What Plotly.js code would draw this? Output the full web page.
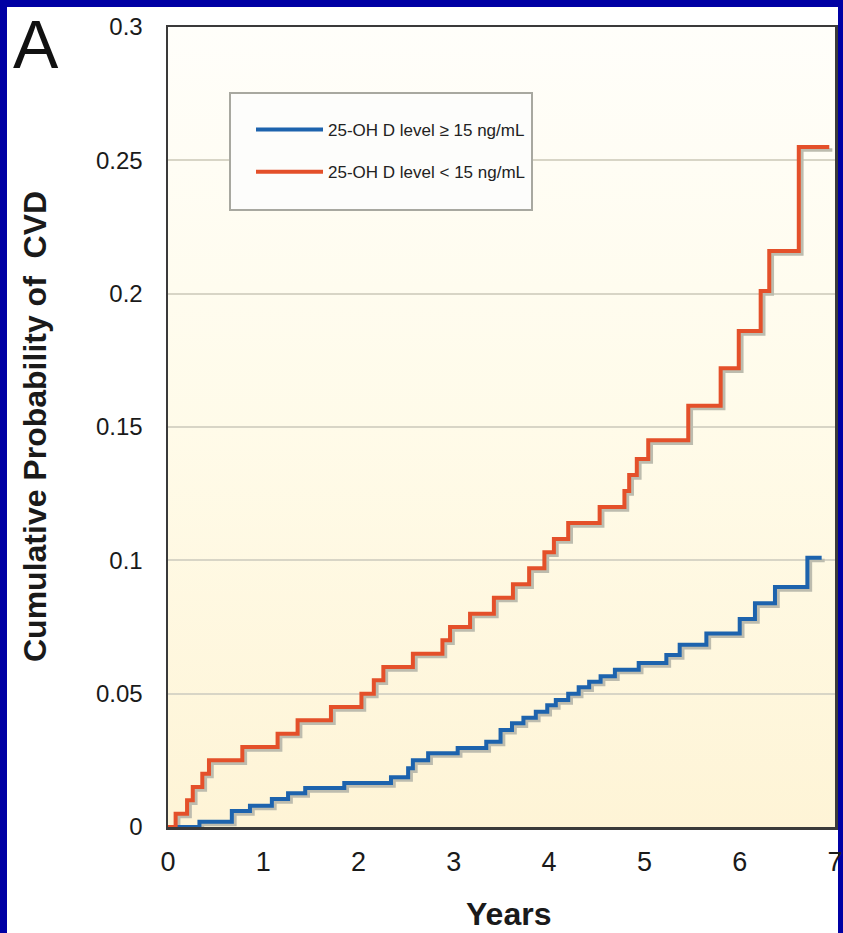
<!DOCTYPE html>
<html>
<head>
<meta charset="utf-8">
<script src="https://cdn.plot.ly/plotly-3.0.1.min.js"></script>
<style>
html, body { margin: 0; padding: 0; background: #0000a4; width: 843px; height: 933px; overflow: hidden; }
#white { position: absolute; left: 7px; top: 7px; width: 831px; height: 926px; background: #ffffff; }
#chart { position: absolute; left: 0; top: 0; width: 843px; height: 933px; }
</style>
</head>
<body>
<div id="white"></div>
<div id="chart"></div>
<script>
// ---- data ----
const seriesNames = ["25-OH D level \u2265 15 ng/mL", "25-OH D level < 15 ng/mL"];

const highYears = [0, 0.33, 0.67, 0.86, 1.09, 1.26, 1.44, 1.85, 2.34, 2.52, 2.57, 2.73, 3.04, 3.34, 3.49, 3.61, 3.73, 3.86, 3.98, 4.07, 4.20, 4.31, 4.42, 4.54, 4.69, 4.94, 5.23, 5.37, 5.65, 6.00, 6.16, 6.37, 6.71, 6.86];
const highProb  = [0, 0.002, 0.006, 0.008, 0.0105, 0.0127, 0.0146, 0.0165, 0.0187, 0.022, 0.025, 0.0277, 0.0296, 0.032, 0.0364, 0.0389, 0.041, 0.0432, 0.0457, 0.0476, 0.050, 0.0524, 0.0545, 0.0565, 0.059, 0.0615, 0.0645, 0.0683, 0.0726, 0.078, 0.0839, 0.090, 0.101, 0.101];

const lowYears = [0, 0.08, 0.20, 0.26, 0.36, 0.43, 0.78, 1.15, 1.36, 1.71, 2.03, 2.16, 2.26, 2.57, 2.88, 2.96, 3.17, 3.42, 3.62, 3.79, 3.95, 4.05, 4.20, 4.53, 4.79, 4.84, 4.92, 5.04, 5.46, 5.80, 5.99, 6.22, 6.31, 6.62, 6.94];
const lowProb  = [0, 0.005, 0.010, 0.015, 0.020, 0.025, 0.030, 0.035, 0.040, 0.045, 0.050, 0.055, 0.060, 0.065, 0.070, 0.075, 0.080, 0.086, 0.091, 0.097, 0.103, 0.108, 0.114, 0.120, 0.126, 0.132, 0.138, 0.145, 0.158, 0.172, 0.186, 0.201, 0.216, 0.255, 0.255];

const xTickVals = [0, 1, 2, 3, 4, 5, 6, 7];
const yTickVals = [0, 0.05, 0.1, 0.15, 0.2, 0.25, 0.3];
const yTickText = ["0", "0.05", "0.1", "0.15", "0.2", "0.25", "0.3"];

const xTitle = "Years";
const yTitle = "Cumulative Probability of  CVD";
const panelLabel = "A";

// ---- styling ----
const blue = "#1d63ad";
const red = "#e4502a";
const shadow = "#bdbcae";
const xRange = [0, 7];
const yRange = [0, 0.3];
const shiftX = 0.032, shiftY = 0.0011;
const FONT = "Liberation Sans, Arial, sans-serif";

const bgSvg = "<svg xmlns='http://www.w3.org/2000/svg' width='100' height='100' viewBox='0 0 100 100' preserveAspectRatio='none'>" +
  "<defs><linearGradient id='g' x1='0' y1='0' x2='0' y2='1'>" +
  "<stop offset='0' stop-color='#fffefa'/><stop offset='0.5' stop-color='#fffbe9'/><stop offset='1' stop-color='#fef4d6'/>" +
  "</linearGradient></defs><rect width='100' height='100' fill='url(#g)'/></svg>";

const traces = [
  // empty trace that anchors the base axes (no marks)
  {x: [], y: [], xaxis: "x", yaxis: "y", mode: "lines", showlegend: false, hoverinfo: "skip"},
  // drop shadows (shifted axes)
  {x: highYears, y: highProb, xaxis: "x2", yaxis: "y2", mode: "lines", line: {shape: "hv", color: shadow, width: 3.5}, showlegend: false, hoverinfo: "skip"},
  {x: lowYears, y: lowProb, xaxis: "x2", yaxis: "y2", mode: "lines", line: {shape: "hv", color: shadow, width: 3.5}, showlegend: false, hoverinfo: "skip"},
  // curves
  {x: highYears, y: highProb, xaxis: "x3", yaxis: "y3", name: seriesNames[0], legendgroup: "a", mode: "lines", line: {shape: "hv", color: blue, width: 4}},
  {x: lowYears, y: lowProb, xaxis: "x3", yaxis: "y3", name: seriesNames[1], legendgroup: "b", mode: "lines", line: {shape: "hv", color: red, width: 4}}
];

const hiddenAxis = {visible: false, showgrid: false, zeroline: false, fixedrange: true};

// paper-coordinate helpers (pixels -> paper)
const L = 168, R = 8, T = 27, B = 106, W = 843, H = 933;
const pw = W - L - R, ph = H - T - B;
const px = v => (v - L) / pw;
const py = v => (H - B - v) / ph;

const layout = {
  width: W, height: H,
  margin: {l: L, r: R, t: T, b: B},
  paper_bgcolor: "rgba(0,0,0,0)",
  plot_bgcolor: "rgba(0,0,0,0)",
  font: {family: FONT, color: "#1a1a1a"},
  showlegend: true,
  legend: {
    x: px(230), y: py(112), xanchor: "left", yanchor: "top",
    bgcolor: "rgba(0,0,0,0)", borderwidth: 0, indentation: 21,
    font: {family: FONT, size: 17, color: "#222"},
    traceorder: "grouped", tracegroupgap: 17, itemwidth: 67
  },
  xaxis: {
    range: xRange, tickvals: xTickVals, ticktext: xTickVals.map(String),
    showgrid: false, zeroline: false, ticks: "", ticklabelstandoff: 9,
    showline: true, linecolor: "#3a3a3a", linewidth: 2.5, mirror: true,
    tickfont: {family: FONT, size: 27, color: "#1a1a1a"},
    fixedrange: true
  },
  yaxis: {
    range: yRange, tickvals: yTickVals, ticktext: yTickText,
    showgrid: true, gridcolor: "#d8d5c6", gridwidth: 2, zeroline: false, ticks: "", ticklabelstandoff: 18,
    showline: true, linecolor: "#3a3a3a", linewidth: 2.5, mirror: true,
    tickfont: {family: FONT, size: 24, color: "#1a1a1a"},
    fixedrange: true
  },
  xaxis2: Object.assign({overlaying: "x", range: [xRange[0] - shiftX, xRange[1] - shiftX]}, hiddenAxis),
  yaxis2: Object.assign({overlaying: "y", range: [yRange[0] + shiftY, yRange[1] + shiftY]}, hiddenAxis),
  xaxis3: Object.assign({overlaying: "x", range: xRange}, hiddenAxis),
  yaxis3: Object.assign({overlaying: "y", range: yRange}, hiddenAxis),
  images: [{
    source: "data:image/svg+xml;charset=utf-8," + encodeURIComponent(bgSvg),
    xref: "paper", yref: "paper", x: 0, y: 1, sizex: 1, sizey: 1,
    sizing: "stretch", xanchor: "left", yanchor: "top", layer: "below"
  }],
  shapes: [
    {type: "rect", xref: "paper", yref: "paper", x0: px(230), x1: px(532), y0: py(93), y1: py(210),
     fillcolor: "#fdfdfb", line: {color: "#a8a8a0", width: 2}, layer: "above"}
  ],
  annotations: [
    {text: panelLabel, xref: "paper", yref: "paper", x: px(36), y: py(44), xanchor: "center", yanchor: "middle",
     showarrow: false, font: {family: FONT, size: 68, color: "#111"}},
    {text: "<b>" + yTitle + "</b>", xref: "paper", yref: "paper", x: px(35), y: py(427), xanchor: "center", yanchor: "middle",
     textangle: -90, showarrow: false, font: {family: FONT, size: 32, color: "#1a1a1a"}},
    {text: "<b>" + xTitle + "</b>", xref: "paper", yref: "paper", x: px(508), y: py(914), xanchor: "center", yanchor: "middle",
     showarrow: false, font: {family: FONT, size: 32, color: "#1a1a1a"}}
  ]
};

Plotly.newPlot("chart", traces, layout, {displayModeBar: false, staticPlot: true});
</script>
</body>
</html>
